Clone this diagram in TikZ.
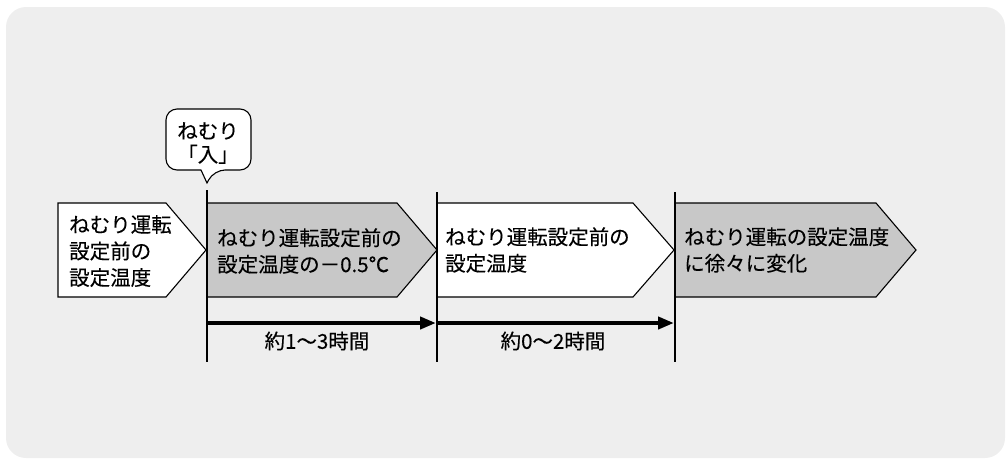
\documentclass[tikz,border=0pt]{standalone}
\usepackage{fontspec}
\setmainfont[FakeBold=0.2]{Noto Sans CJK JP}
\usetikzlibrary{arrows.meta}
\definecolor{panel}{HTML}{EEEEEE}
\definecolor{stagegray}{HTML}{C8C8C8}
\begin{document}
\begin{tikzpicture}[x=1pt,y=-1pt,
    stage/.style={draw=black,line width=1.1pt,fill=white,line join=miter},
    graystage/.style={stage,fill=stagegray},
    txt/.style={inner sep=0pt,align=left,font=\fontsize{20.5}{26.5}\selectfont},
    bar/.style={line width=2.6pt},
    period/.style={line width=4.5pt,-{Triangle[length=16pt,width=12pt]},shorten >=1pt}]
    \useasboundingbox (0,0) rectangle (1006,459);
    \fill[panel,rounded corners=20pt] (6,7) rectangle (1005,458);
    % stages
    \draw[stage] (58,203) -- (166,203) -- (206,250) -- (166,297) -- (58,297) -- cycle;
    \draw[graystage] (207,203) -- (397,203) -- (437,250) -- (397,297) -- (207,297) -- cycle;
    \draw[stage] (437,203) -- (633,203) -- (674,250) -- (633,297) -- (437,297) -- cycle;
    \draw[graystage] (675,203) -- (876,203) -- (916,250) -- (876,297) -- (675,297) -- cycle;
    \node[txt,anchor=west] (before) at (69,251) {ねむり運転\\設定前の\\設定温度};
    \node[txt,anchor=west] (minus) at (217,251) {ねむり運転設定前の\\設定温度の－0.5℃};
    \node[txt,anchor=west] (back) at (445,250) {ねむり運転設定前の\\設定温度};
    \node[txt,anchor=west] (shift) at (684,250) {ねむり運転の設定温度\\に徐々に変化};
    % time bars
    \coordinate (t1top) at (207,190);
    \coordinate (t2top) at (437,192);
    \coordinate (t3top) at (675,192);
    \coordinate (t1) at (207,323);
    \coordinate (t2) at (437,323);
    \coordinate (t3) at (675,323);
    \draw[bar] (t1top) -- (207,362);
    \draw[bar] (t2top) -- (437,362);
    \draw[bar] (t3top) -- (675,362);
    \draw[period] (t1) -- (t2);
    \draw[period] (t2) -- (t3);
    \node[txt,anchor=center] (first) at (317,341) {約1〜3時間};
    \node[txt,anchor=center] (second) at (553,341) {約0〜2時間};
    % balloon
    \draw[line width=1.1pt,fill=white,rounded corners=11pt] (201,170) -- (166,170) -- (166,109) -- (251,109) -- (251,170) -- (214,170) [sharp corners] -- (207,183) -- cycle;
    \node[txt,align=center,font=\fontsize{20.5}{23.5}\selectfont] (start) at (208,143) {ねむり\\「入」};
\end{tikzpicture}
\end{document}
